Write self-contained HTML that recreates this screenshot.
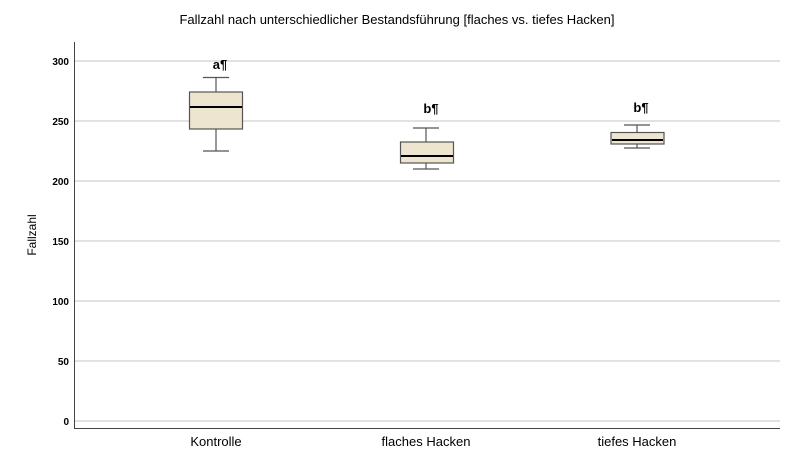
<!DOCTYPE html>
<html><head><style>body{margin:0;background:#fff}</style></head><body>
<svg width="803" height="468" xmlns="http://www.w3.org/2000/svg" font-family="Liberation Sans, sans-serif">
<rect width="803" height="468" fill="#fff"/>
<text x="397" y="24" font-size="13" text-anchor="middle" fill="#000">Fallzahl nach unterschiedlicher Bestandsführung [flaches vs. tiefes Hacken]</text>
<g stroke="#d0d0d0" stroke-width="1.3">
<line x1="74" x2="780" y1="61" y2="61"/><line x1="74" x2="780" y1="121" y2="121"/><line x1="74" x2="780" y1="181" y2="181"/><line x1="74" x2="780" y1="241" y2="241"/><line x1="74" x2="780" y1="301" y2="301"/><line x1="74" x2="780" y1="361" y2="361"/><line x1="74" x2="780" y1="421" y2="421"/>
</g>
<line x1="74.5" y1="42" x2="74.5" y2="428" stroke="#444"/>
<line x1="74" y1="428.5" x2="780" y2="428.5" stroke="#444"/>
<g font-size="10" font-weight="bold" text-anchor="end">
<text x="69" y="65">300</text><text x="69" y="125">250</text><text x="69" y="185">200</text><text x="69" y="245">150</text><text x="69" y="305">100</text><text x="69" y="365">50</text><text x="69" y="425">0</text>
</g>
<text transform="translate(36,235) rotate(-90)" font-size="12" text-anchor="middle">Fallzahl</text>
<g font-size="13" text-anchor="middle">
<text x="216" y="446">Kontrolle</text><text x="426" y="446">flaches Hacken</text><text x="637" y="446">tiefes Hacken</text>
</g>
<g stroke="#555" stroke-width="1.2" fill="#ede5d0">
<line x1="216" x2="216" y1="77.5" y2="151"/><line x1="203" x2="229" y1="77.5" y2="77.5"/><line x1="203" x2="229" y1="151" y2="151"/>
<rect x="189.5" y="92" width="53" height="37"/>
<line x1="426" x2="426" y1="128" y2="169"/><line x1="413" x2="439" y1="128" y2="128"/><line x1="413" x2="439" y1="169" y2="169"/>
<rect x="400.5" y="142" width="53" height="21"/>
<line x1="637" x2="637" y1="125" y2="148"/><line x1="624" x2="650" y1="125" y2="125"/><line x1="624" x2="650" y1="148" y2="148"/>
<rect x="611" y="132.5" width="53" height="11.5"/>
</g>
<g stroke="#000" stroke-width="2">
<line x1="190" x2="242" y1="107" y2="107"/><line x1="401" x2="453" y1="156" y2="156"/><line x1="612" x2="663" y1="140" y2="140"/>
</g>
<g font-size="13" font-weight="bold" text-anchor="middle">
<text x="220" y="69">a¶</text><text x="431" y="113">b¶</text><text x="641" y="112">b¶</text>
</g>
</svg>
</body></html>
